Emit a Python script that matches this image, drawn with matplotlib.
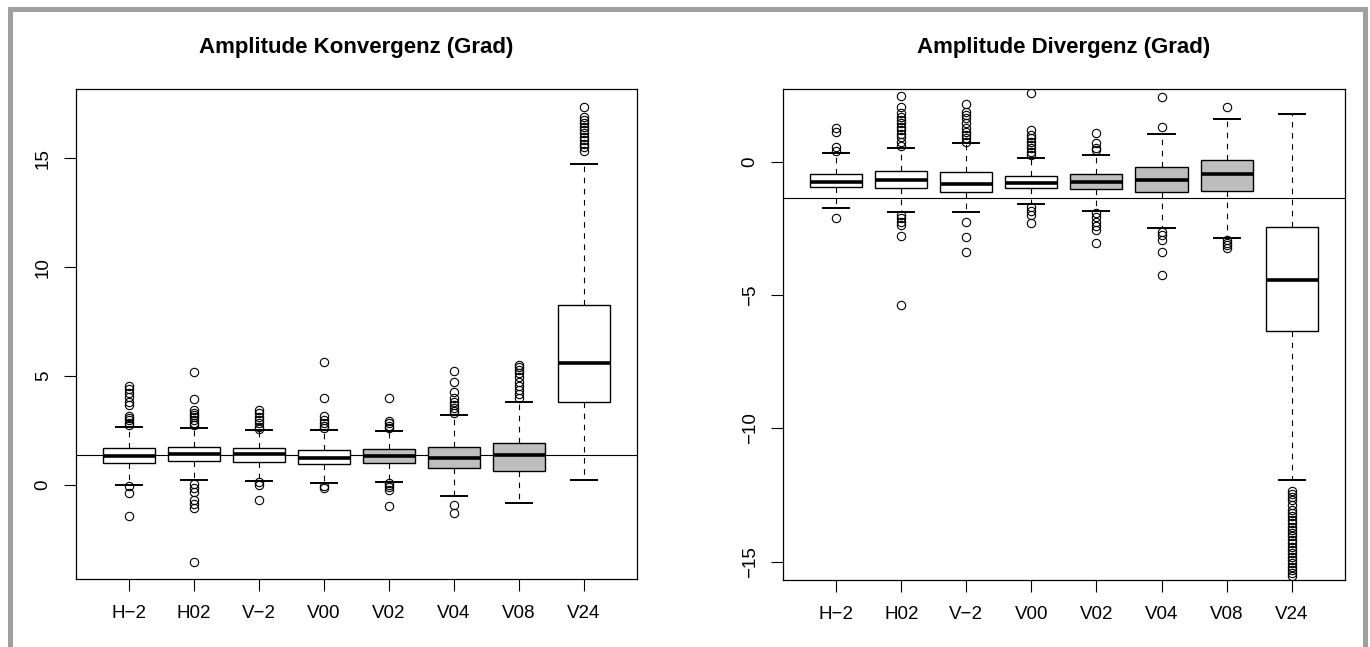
import matplotlib
matplotlib.use("Agg")
import matplotlib.pyplot as plt
from matplotlib.patches import Rectangle

plt.rcParams['font.family'] = ['Liberation Sans', 'DejaVu Sans']

categories = ["H\u22122", "H02", "V\u22122", "V00", "V02", "V04", "V08", "V24"]

# Amplitude Konvergenz
conv_q1 = [1.01, 1.10, 1.07, 0.95, 1.00, 0.78, 0.64, 3.79]
conv_med = [1.33, 1.42, 1.41, 1.24, 1.33, 1.24, 1.38, 5.58]
conv_q3 = [1.68, 1.73, 1.68, 1.59, 1.64, 1.76, 1.94, 8.26]
conv_lo = [0.01, 0.24, 0.20, 0.09, 0.15, -0.49, -0.81, 0.23]
conv_hi = [2.67, 2.63, 2.52, 2.51, 2.49, 3.23, 3.82, 14.74]
conv_out = [
    [4.54, 4.39, 4.21, 4.02, 3.82, 3.67, 3.17, 3.06, 2.98, 2.86, 2.75, -0.03, -0.37, -1.41],
    [5.17, 3.93, 3.44, 3.32, 3.21, 3.10, 2.98, 2.86, 2.74, 0.03, -0.12, -0.31, -0.69, -0.89, -1.07, -3.52],
    [3.44, 3.29, 3.13, 2.98, 2.83, 2.67, 2.55, 0.15, 0.0, -0.69],
    [5.63, 3.99, 3.17, 2.98, 2.83, 2.71, 2.60, -0.05, -0.15],
    [4.00, 2.94, 2.83, 2.71, 2.60, 0.11, 0.0, -0.11, -0.23, -0.95],
    [5.24, 4.72, 4.28, 3.98, 3.82, 3.67, 3.52, 3.41, 3.32, -0.92, -1.30],
    [5.50, 5.40, 5.28, 5.12, 4.94, 4.74, 4.54, 4.36, 4.16, 3.98],
    [17.35, 16.89, 16.74, 16.59, 16.44, 16.28, 16.13, 15.98, 15.83, 15.67, 15.52, 15.33],
]
conv_ref = 1.39

# Amplitude Divergenz
div_q1 = [-0.97, -1.00, -1.16, -1.00, -1.02, -1.16, -1.12, -6.37]
div_med = [-0.76, -0.71, -0.86, -0.81, -0.76, -0.71, -0.46, -4.45]
div_q3 = [-0.46, -0.37, -0.41, -0.56, -0.48, -0.21, 0.06, -2.44]
div_lo = [-1.73, -1.88, -1.88, -1.59, -1.84, -2.48, -2.86, -11.95]
div_hi = [0.33, 0.52, 0.68, 0.14, 0.24, 1.02, 1.59, 1.79]
div_out = [
    [1.24, 1.12, 0.55, 0.40, -2.13],
    [2.47, 2.05, 1.81, 1.68, 1.56, 1.43, 1.30, 1.18, 1.05, 0.91, 0.74, 0.58,
     -2.00, -2.13, -2.26, -2.38, -2.78, -5.38],
    [2.16, 1.87, 1.74, 1.62, 1.43, 1.24, 1.12, 0.99, 0.87, 0.74, -2.28, -2.83, -3.40],
    [2.58, 1.18, 0.99, 0.87, 0.74, 0.62, 0.49, 0.37, 0.24, -1.72, -1.84, -2.00, -2.29],
    [1.06, 0.68, 0.49, 0.43, -1.94, -2.09, -2.26, -2.41, -2.57, -3.07],
    [2.41, 1.28, -2.63, -2.75, -2.94, -3.38, -4.25],
    [2.03, -2.94, -3.04, -3.14, -3.23],
    [-12.34, -12.46, -12.59, -12.71, -12.87, -13.06, -13.19, -13.31, -13.44, -13.56,
     -13.69, -13.81, -13.94, -14.06, -14.19, -14.31, -14.44, -14.56, -14.69, -14.81,
     -14.94, -15.06, -15.19, -15.31, -15.43, -15.54],
]
div_ref = -1.38

box_fill = ["white"] * 4 + ["#BEBEBE"] * 3 + ["white"]


def draw_panel(ax, title, q1, med, q3, lo, hi, out, ref, ylim, yticks):
    stats = []
    for i in range(len(categories)):
        stats.append(dict(q1=q1[i], med=med[i], q3=q3[i], whislo=lo[i],
                          whishi=hi[i], fliers=out[i], label=categories[i]))
    bp = ax.bxp(stats, positions=range(1, 9), widths=0.8, capwidths=0.4,
                patch_artist=True, showfliers=True,
                boxprops=dict(edgecolor='black', linewidth=1.0),
                medianprops=dict(color='black', linewidth=2.6, solid_capstyle='butt'),
                whiskerprops=dict(color='black', linewidth=0.8, linestyle=(0, (5, 5))),
                capprops=dict(color='black', linewidth=1.4),
                flierprops=dict(marker='o', markerfacecolor='none', markeredgecolor='black',
                                markersize=6, markeredgewidth=0.8))
    for patch, c in zip(bp['boxes'], box_fill):
        patch.set_facecolor(c)
    ax.axhline(ref, color='black', linewidth=0.8, zorder=1)
    ax.set_xlim(0.18, 8.82)
    ax.set_ylim(*ylim)
    ax.set_yticks(yticks)
    ax.set_xticks(range(1, 9))
    ax.set_xticklabels(categories)
    ax.tick_params(axis='both', length=8.5, width=0.8, labelsize=13.5)
    ax.tick_params(axis='x', pad=10)
    ax.tick_params(axis='y', pad=9)
    for lab in ax.get_yticklabels():
        lab.set_rotation(90)
        lab.set_va('center')
    for s in ax.spines.values():
        s.set_linewidth(0.9)
    ax.set_title(title, fontsize=16, fontweight='bold', pad=26)


fig = plt.figure(figsize=(13.7, 6.47), dpi=100)

ax1 = fig.add_axes([0.0555, 0.1051, 0.4095, 0.7573])
draw_panel(ax1, "Amplitude Konvergenz (Grad)", conv_q1, conv_med, conv_q3,
           conv_lo, conv_hi, conv_out, conv_ref, (-4.31, 18.17), [0, 5, 10, 15])

ax2 = fig.add_axes([0.5715, 0.1036, 0.4102, 0.7589])
draw_panel(ax2, "Amplitude Divergenz (Grad)", div_q1, div_med, div_q3,
           div_lo, div_hi, div_out, div_ref, (-15.69, 2.72), [-15, -10, -5, 0])

# grey frame around the figure (open at the bottom)
frame = Rectangle((9.5 / 1370, -0.05), (1364.5 - 9.5) / 1370, 1 - 8.5 / 647 + 0.05,
                  transform=fig.transFigure, fill=False, edgecolor='#A0A0A0',
                  linewidth=3.6)
fig.add_artist(frame)

fig.savefig("out.png", dpi=100)
